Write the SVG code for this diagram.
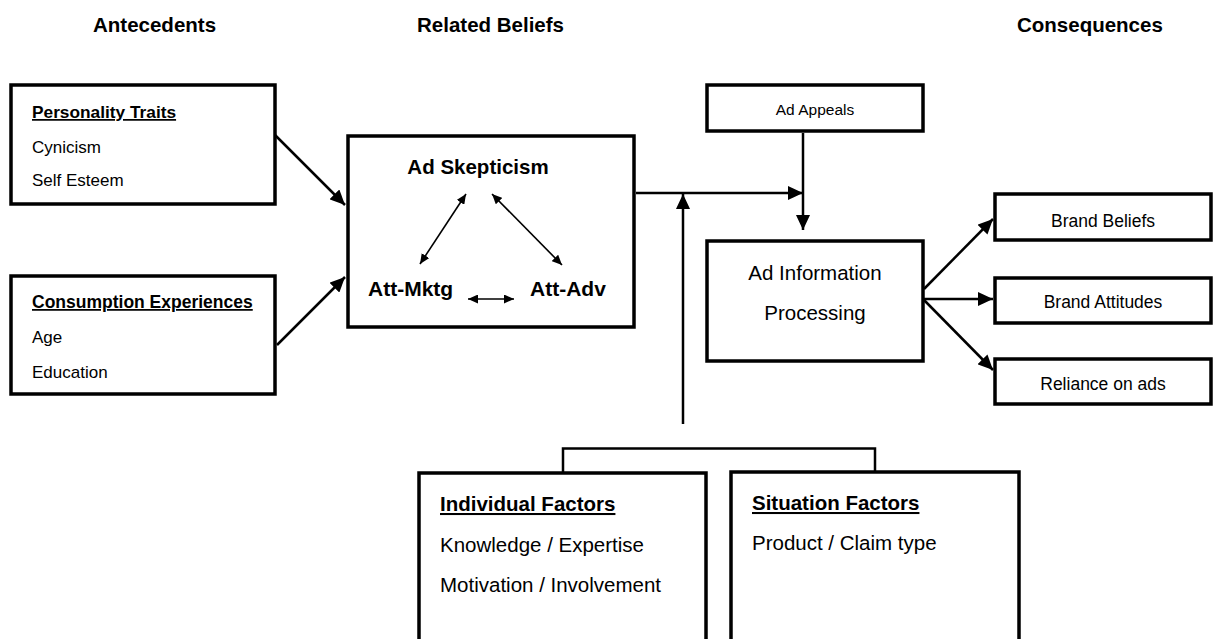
<svg xmlns="http://www.w3.org/2000/svg" width="1217" height="639" viewBox="0 0 1217 639">
  <style>
    text { font-family: "Liberation Sans", Arial, sans-serif; fill: #000; }
    .hdr { font-size: 20.5px; font-weight: bold; }
    .box { fill: #fff; stroke: #000; stroke-width: 3.5; }
    .conn { fill: none; stroke: #000; stroke-width: 2.5; }
    .thin { fill: none; stroke: #000; stroke-width: 1.6; }
    .ttl { font-weight: bold; text-decoration: underline; text-decoration-thickness: 2px; }
    .item { font-size: 17px; }
    .big { font-size: 20.5px; }
    .mid { font-size: 17.5px; text-anchor: middle; }
    .c { text-anchor: middle; }
  </style>
  <defs>
    <marker id="head" markerUnits="userSpaceOnUse" markerWidth="16" markerHeight="14" refX="15" refY="7" orient="auto">
      <path d="M0,0 L15,7 L0,14 z" fill="#000"/>
    </marker>
    <marker id="tip" markerUnits="userSpaceOnUse" markerWidth="11" markerHeight="9" refX="10" refY="4.5" orient="auto-start-reverse">
      <path d="M0,0 L10,4.5 L0,9 z" fill="#000"/>
    </marker>
  </defs>

  <!-- column headings -->
  <g id="headings">
    <text class="hdr" x="93" y="32">Antecedents</text>
    <text class="hdr" x="417" y="32">Related Beliefs</text>
    <text class="hdr" x="1017" y="32">Consequences</text>
  </g>

  <!-- antecedents -->
  <g id="personality-traits">
    <rect class="box" x="11" y="85" width="264" height="119"/>
    <text class="ttl" x="32" y="118" font-size="17.3">Personality Traits</text>
    <text class="item" x="32" y="153">Cynicism</text>
    <text class="item" x="32" y="186">Self Esteem</text>
  </g>
  <g id="consumption-experiences">
    <rect class="box" x="11" y="276" width="264" height="118"/>
    <text class="ttl" x="32" y="308" font-size="17.5">Consumption Experiences</text>
    <text class="item" x="32" y="343">Age</text>
    <text class="item" x="32" y="378">Education</text>
  </g>

  <!-- related beliefs -->
  <g id="ad-skepticism">
    <rect class="box" x="348" y="136" width="286" height="191"/>
    <text class="c" x="478" y="174" font-size="20.5" font-weight="bold">Ad Skepticism</text>
    <text x="368" y="296" font-size="21" font-weight="bold">Att-Mktg</text>
    <text x="530" y="296" font-size="21" font-weight="bold">Att-Adv</text>
    <line class="thin" x1="466" y1="194" x2="420" y2="264" marker-start="url(#tip)" marker-end="url(#tip)"/>
    <line class="thin" x1="492" y1="194" x2="562" y2="265" marker-start="url(#tip)" marker-end="url(#tip)"/>
    <line class="thin" x1="468" y1="299" x2="514" y2="299" marker-start="url(#tip)" marker-end="url(#tip)"/>
  </g>

  <!-- processing -->
  <g id="ad-appeals">
    <rect class="box" x="707" y="85" width="216" height="46"/>
    <text class="c" x="815" y="115" font-size="15.5">Ad Appeals</text>
  </g>
  <g id="ad-information-processing">
    <rect class="box" x="707" y="241" width="216" height="120"/>
    <text class="c big" x="815" y="280">Ad Information</text>
    <text class="c big" x="815" y="320">Processing</text>
  </g>

  <!-- consequences -->
  <g id="brand-beliefs">
    <rect class="box" x="995" y="194" width="216" height="46"/>
    <text class="mid" x="1103" y="227">Brand Beliefs</text>
  </g>
  <g id="brand-attitudes">
    <rect class="box" x="995" y="278" width="216" height="45"/>
    <text class="mid" x="1103" y="308">Brand Attitudes</text>
  </g>
  <g id="reliance-on-ads">
    <rect class="box" x="995" y="359" width="216" height="45"/>
    <text class="mid" x="1103" y="390">Reliance on ads</text>
  </g>

  <!-- moderators -->
  <g id="individual-factors">
    <rect class="box" x="419" y="473" width="287" height="190"/>
    <text class="ttl big" x="440" y="511">Individual Factors</text>
    <text class="big" x="440" y="552">Knowledge / Expertise</text>
    <text class="big" x="440" y="592">Motivation / Involvement</text>
  </g>
  <g id="situation-factors">
    <rect class="box" x="731" y="472" width="288" height="190"/>
    <text class="ttl big" x="752" y="510">Situation Factors</text>
    <text class="big" x="752" y="550">Product / Claim type</text>
  </g>

  <!-- connectors -->
  <g id="connectors">
    <line class="conn" x1="275" y1="135" x2="345" y2="205" marker-end="url(#head)"/>
    <line class="conn" x1="277" y1="345" x2="345" y2="277" marker-end="url(#head)"/>
    <line class="conn" x1="636" y1="193" x2="803" y2="193" marker-end="url(#head)"/>
    <line class="conn" x1="803" y1="133" x2="803" y2="230" marker-end="url(#head)"/>
    <line class="conn" x1="683" y1="424" x2="683" y2="194" marker-end="url(#head)"/>
    <polyline class="conn" points="563,472 563,448.5 875,448.5 875,472"/>
    <line class="conn" x1="924" y1="289" x2="993" y2="219" marker-end="url(#head)"/>
    <line class="conn" x1="924" y1="299" x2="993" y2="299" marker-end="url(#head)"/>
    <line class="conn" x1="924" y1="300" x2="993" y2="370" marker-end="url(#head)"/>
  </g>
</svg>
